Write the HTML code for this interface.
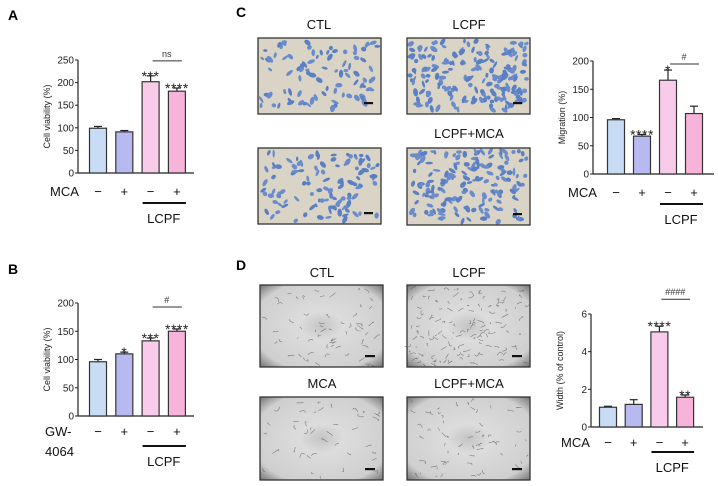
<!DOCTYPE html>
<html><head><meta charset="utf-8"><style>
html,body{margin:0;padding:0;background:#fff}
svg{display:block;font-family:"Liberation Sans",Arial,sans-serif}
</style></head><body>
<svg id="fig" width="718" height="486" viewBox="0 0 718 486" xmlns="http://www.w3.org/2000/svg">
<text x="8" y="20" font-size="14" font-weight="bold">A</text>
<text x="8" y="274" font-size="14" font-weight="bold">B</text>
<text x="236" y="17" font-size="14" font-weight="bold">C</text>
<text x="236" y="270" font-size="14" font-weight="bold">D</text>
<g font-size="13" text-anchor="middle" fill="#111">
<text x="319" y="29">CTL</text>
<text x="469" y="29">LCPF</text>
<text x="469" y="138">LCPF+MCA</text>
<text x="322" y="277">CTL</text>
<text x="469" y="277">LCPF</text>
<text x="322" y="388">MCA</text>
<text x="469" y="388">LCPF+MCA</text>
</g>
<defs>
<radialGradient id="tube" cx="50%" cy="50%" r="70%"><stop offset="0" stop-color="#c4c4c4"/><stop offset="0.25" stop-color="#dcdcdc"/><stop offset="0.8" stop-color="#cfcfcf"/><stop offset="1" stop-color="#777"/></radialGradient>
</defs>
<g id="imgs"></g>
<g id="charts"></g>
</svg>
<script>
// ---- chart data ----
const aValues = [99, 91, 202, 181];
const aErrors = [4, 3, 13, 7];
const aTicks = [0, 50, 100, 150, 200, 250];
const bValues = [96, 110, 133, 150];
const bErrors = [4, 3, 5, 4];
const bTicks = [0, 50, 100, 150, 200];
const cValues = [96, 67, 166, 107];
const cErrors = [2, 3, 18, 13];
const cTicks = [0, 50, 100, 150, 200];
const dValues = [1.05, 1.2, 5.05, 1.58];
const dErrors = [0.05, 0.25, 0.3, 0.12];
const dTicks = [0, 2, 4, 6];
const aStars = ["", "", "***", "****"];
const bStars = ["", "*", "***", "****"];
const cStars = ["", "****", "*", ""];
const dStars = ["", "", "****", "**"];
const signs = ["−", "+", "−", "+"];
const barColors = ["#c8ddf5", "#b9b9f2", "#f8cbea", "#f7b3da"];

const NS = "http://www.w3.org/2000/svg";
function mk(tag, attrs, parent, txt) {
  const e = document.createElementNS(NS, tag);
  for (const k in attrs) e.setAttribute(k, attrs[k]);
  if (txt !== undefined) e.textContent = txt;
  parent.appendChild(e);
  return e;
}
const charts = document.getElementById("charts");

function chart(cfg) {
  const g = mk("g", {}, charts);
  
  
  const ymax = cfg.ticks[cfg.ticks.length - 1];
  const yS = v => cfg.y0 - (v / ymax) * (cfg.y0 - cfg.yTop);
  const xS = i => cfg.x0 + cfg.first + i * cfg.step;
  const bw = 17;
  const ax = mk("line", {x1: cfg.x0, x2: cfg.x0, y1: cfg.yTop, y2: cfg.y0, stroke: "#222", "stroke-width": 1.2}, g);
  
  
  const xa = mk("line", {x1: cfg.x0, x2: cfg.xEnd, y1: cfg.y0, y2: cfg.y0, stroke: "#222", "stroke-width": 1.2}, g);
  
  
  cfg.ticks.forEach(t => {
    const y = yS(t);
    mk("line", {x1: cfg.x0 - 3, x2: cfg.x0, y1: y, y2: y, stroke: "#222", "stroke-width": 1}, g);
    const tl = mk("text", {x: cfg.x0 - 4, y: y + 3.5, "font-size": 10, "text-anchor": "end", fill: "#222"}, g, String(t));
    
    
  });
  const yt = mk("text", {x: 0, y: 0, "font-size": 9, "text-anchor": "middle", fill: "#222",
    transform: `translate(${cfg.x0 - 28},${(cfg.y0 + cfg.yTop) / 2}) rotate(-90)`}, g, cfg.ylabel);
  
  
  cfg.values.forEach((v, i) => {
    const cx = xS(i), y = yS(v), ye = yS(v + cfg.errors[i]);
    mk("line", {x1: cx, x2: cx, y1: ye, y2: y, stroke: "#222", "stroke-width": 1.2}, g);
    mk("line", {x1: cx - 4, x2: cx + 4, y1: ye, y2: ye, stroke: "#222", "stroke-width": 1.2}, g);
    const r = mk("rect", {x: cx - bw / 2, y: y, width: bw, height: cfg.y0 - y, fill: barColors[i], stroke: "#333", "stroke-width": 1.2}, g);
    
    
    if (cfg.stars[i]) {
      const s = mk("text", {x: cx, y: ye + 5, "font-size": 14, "text-anchor": "middle", fill: "#222", "letter-spacing": "0.5"}, g, cfg.stars[i]);
      
      
    }
    const sg = mk("text", {x: cx, y: cfg.signY, "font-size": 13, "text-anchor": "middle", fill: "#111"}, g, signs[i]);
    
    
  });
  cfg.treat.forEach((t, k) => {
    const tt = mk("text", {x: cfg.treatX, y: cfg.signY + k * 20, "font-size": 13, fill: "#111"}, g, t);
    
    
  });
  mk("line", {x1: xS(2) - 8, x2: xS(3) + 9, y1: cfg.lineY, y2: cfg.lineY, stroke: "#111", "stroke-width": 2}, g);
  const lt = mk("text", {x: (xS(2) + xS(3)) / 2, y: cfg.lineY + 20, "font-size": 13, "text-anchor": "middle", fill: "#111"}, g, "LCPF");
  
  
  const top = yS(cfg.values[2] + cfg.errors[2]) - cfg.cmpOff;
  mk("line", {x1: xS(2) + 2, x2: xS(3) + 5, y1: top, y2: top, stroke: "#333", "stroke-width": 1}, g);
  const ct = mk("text", {x: (xS(2) + xS(3)) / 2 + 3, y: top - 4, "font-size": 9, "text-anchor": "middle", fill: "#333"}, g, cfg.cmp);
  
  
}

chart({name: "chart-a", values: aValues, errors: aErrors, ticks: aTicks, stars: aStars, x0: 78, xEnd: 194, y0: 173, yTop: 60, first: 20, step: 26.3, ylabel: "Cell viability (%)", signY: 196, treat: ["MCA"], treatX: 50, lineY: 203, cmp: "ns", cmpOff: 15});
chart({name: "chart-b", values: bValues, errors: bErrors, ticks: bTicks, stars: bStars, x0: 78, xEnd: 194, y0: 416, yTop: 303, first: 20, step: 26.3, ylabel: "Cell viability (%)", signY: 436, treat: ["GW-", "4064"], treatX: 45, lineY: 446, cmp: "#", cmpOff: 31});
chart({name: "chart-c", values: cValues, errors: cErrors, ticks: cTicks, stars: cStars, x0: 593, xEnd: 714, y0: 174, yTop: 61, first: 23, step: 26, ylabel: "Migration (%)", signY: 197, treat: ["MCA"], treatX: 568, lineY: 204, cmp: "#", cmpOff: 6});
chart({name: "chart-d", values: dValues, errors: dErrors, ticks: dTicks, stars: dStars, x0: 591, xEnd: 703, y0: 427, yTop: 314, first: 17, step: 25.7, ylabel: "Width (% of control)", signY: 447, treat: ["MCA"], treatX: 561, lineY: 452, cmp: "####", cmpOff: 27});

// ---- micrograph placeholders ----
const imgs = document.getElementById("imgs");
let seed = 7;
function rnd() { seed = (seed * 16807) % 2147483647; return seed / 2147483647; }
function cellImg(x, y, w, h, n, name) {
  const g = mk("g", {}, imgs);
  
  
  mk("rect", {x, y, width: w, height: h, fill: "#d9d4c6"}, g);
  for (let i = 0; i < n; i++) {
    const cx = x + 3 + rnd() * (w - 6), cy = y + 3 + rnd() * (h - 6);
    mk("ellipse", {cx, cy, rx: 2 + rnd() * 2.2, ry: 1.2 + rnd() * 1.2, fill: rnd() > 0.5 ? "#6a8ccc" : "#5a7fc2",
      transform: `rotate(${rnd() * 180} ${cx} ${cy})`}, g);
  }
  mk("rect", {x: x + w - 17, y: y + h - 12, width: 9, height: 2.2, fill: "#111"}, g);
  mk("rect", {x, y, width: w, height: h, fill: "none", stroke: "#333", "stroke-width": 1.3}, g);
}
function tubeImg(x, y, w, h, n, name) {
  const g = mk("g", {}, imgs);
  
  
  mk("rect", {x, y, width: w, height: h, fill: "url(#tube)"}, g);
  let d = "";
  for (let i = 0; i < n; i++) {
    const sx = x + 3 + rnd() * (w - 6), sy = y + 3 + rnd() * (h - 6);
    d += `M${sx.toFixed(1)} ${sy.toFixed(1)}q${(rnd() * 8 - 4).toFixed(1)} ${(rnd() * 8 - 4).toFixed(1)} ${(rnd() * 12 - 6).toFixed(1)} ${(rnd() * 8 - 4).toFixed(1)}`;
  }
  mk("path", {d, stroke: "#555", "stroke-width": 0.6, fill: "none", opacity: 0.7}, g);
  mk("rect", {x: x + w - 18, y: y + h - 12, width: 10, height: 2.2, fill: "#111"}, g);
  mk("rect", {x, y, width: w, height: h, fill: "none", stroke: "#333", "stroke-width": 1.3}, g);
}
cellImg(258, 38, 123, 76, 90, "image-c-ctl");
cellImg(407, 38, 123, 76, 190, "image-c-lcpf");
cellImg(258, 148, 123, 76, 110, "image-c-mca");
cellImg(407, 148, 123, 77, 160, "image-c-lcpf-mca");
tubeImg(260, 285, 123, 82, 60, "image-d-ctl");
tubeImg(407, 285, 123, 82, 130, "image-d-lcpf");
tubeImg(260, 397, 123, 83, 40, "image-d-mca");
tubeImg(407, 397, 123, 83, 60, "image-d-lcpf-mca");
</script>
</body></html>
